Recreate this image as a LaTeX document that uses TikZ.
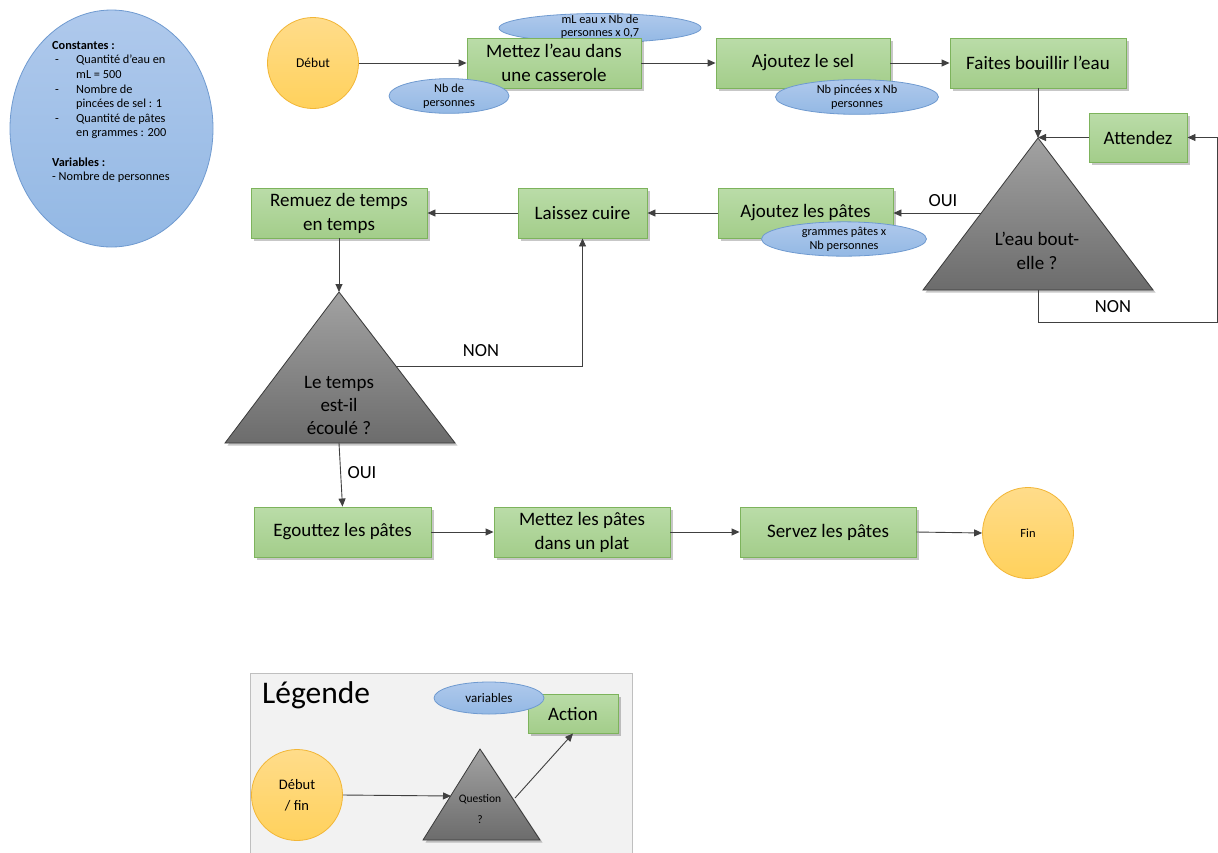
\documentclass[tikz,border=0pt]{standalone}
\usepackage{fontspec}
\setmainfont{Carlito}
\usetikzlibrary{arrows.meta,shadows,shapes.geometric,calc}
\definecolor{gtop}{HTML}{BADCA8}
\definecolor{gbot}{HTML}{A3CD8A}
\definecolor{gbord}{HTML}{7DB35C}
\definecolor{btop}{HTML}{AFC9EC}
\definecolor{bbot}{HTML}{93B8E4}
\definecolor{bbord}{HTML}{6F9AD0}
\definecolor{otop}{HTML}{FFDC8A}
\definecolor{obot}{HTML}{FFD15C}
\definecolor{obord}{HTML}{F2B636}
\definecolor{ttop}{HTML}{A2A2A2}
\definecolor{tbot}{HTML}{6C6C6C}
\definecolor{tbord}{HTML}{3A3A3A}
\definecolor{lc}{HTML}{404040}
\definecolor{legbg}{HTML}{F2F2F2}
\definecolor{legbd}{HTML}{BFBFBF}
\begin{document}
\begin{tikzpicture}[x=1pt,y=-1pt,
  font=\fontsize{19}{24}\selectfont,
  shad/.style={drop shadow={shadow xshift=2.5pt,shadow yshift=-2.5pt,opacity=0.22,fill=black}},
  act/.style={draw=gbord, line width=0.9pt, top color=gtop, bottom color=gbot, align=center, inner sep=2pt, shad},
  var/.style={ellipse, draw=bbord, line width=0.8pt, top color=btop, bottom color=bbot, align=center, inner sep=0pt, font=\fontsize{12.3}{14}\selectfont},
  term/.style={circle, draw=obord, line width=0.8pt, top color=otop, bottom color=obot, minimum size=91, inner sep=0pt, align=center, font=\fontsize{13.5}{20}\selectfont},
  tri/.style={draw=tbord, line width=0.8pt, top color=ttop, bottom color=tbot},
  arr/.style={draw=lc, line width=0.9pt, -{Triangle[length=8pt,width=7pt]}},
  lbl/.style={font=\fontsize{18.5}{20}\selectfont, inner sep=0pt}
]
\useasboundingbox (0,0) rectangle (1218,852);
\fill[white] (0,0) rectangle (1218,852);

% constants ellipse
\node[ellipse, draw=bbord, line width=0.8pt, top color=btop, bottom color=bbot, minimum width=203, minimum height=237, inner sep=0pt] (consts) at (111.5,128.5) {};
\node[anchor=north west, align=left, inner sep=0pt, font=\fontsize{12.3}{14.6}\selectfont] (consttxt) at (52,41)
 {\textbf{Constantes :}\\
  \makebox[24pt][l]{\hspace{3pt}-}Quantité d’eau en\\
  \hspace*{24pt}mL = 500\\
  \makebox[24pt][l]{\hspace{3pt}-}Nombre de\\
  \hspace*{24pt}pincées de sel : 1\\
  \makebox[24pt][l]{\hspace{3pt}-}Quantité de pâtes\\
  \hspace*{24pt}en grammes : 200\\[14.6pt]
  \textbf{Variables :}\\
  - Nombre de personnes};

% coordinates for triangles
\coordinate (t1a) at (1038,138);
\coordinate (t1l) at (923,290);
\coordinate (t1r) at (1153,290);
\coordinate (t1b) at (1038,290);
\coordinate (t1s) at (981,213);
\coordinate (t2a) at (339,292);
\coordinate (t2l) at (225,443);
\coordinate (t2r) at (455,443);
\coordinate (t2b) at (339,443);
\coordinate (t2s) at (396,366);
\coordinate (t3a) at (480,749);
\coordinate (t3l) at (423,840);
\coordinate (t3r) at (540,840);
\coordinate (t3s) at (451,796);
\coordinate (t3e) at (515,798);

% top row
\node[term] (debut) at (313,63) {Début};
\node[var, minimum width=202, minimum height=29] (e1) at (600,28) {};
\node[act, minimum width=174, minimum height=50] (m1) at (554,63) {Mettez l’eau dans\\une casserole};
\node[align=center, inner sep=0pt, font=\fontsize{12.3}{13.5}\selectfont] (e1txt) at (600,26.5) {mL eau x Nb de\\personnes x 0,7};
\node[var, minimum width=120, minimum height=34] (e2) at (449,96) {Nb de\\personnes};
\node[act, minimum width=174, minimum height=50] (sel) at (803,63) {Ajoutez le sel};
\node[var, minimum width=163, minimum height=32] (e3) at (857,97) {Nb pincées x Nb\\personnes};
\node[act, minimum width=176, minimum height=50] (bouil) at (1038,63) {Faites bouillir l’eau};
\node[act, minimum width=98, minimum height=49] (att) at (1138,137.5) {Attendez};

% triangle 1
\path[tri, shad] (t1a) -- (t1l) -- (t1r) -- cycle;
\node[align=center, inner sep=0pt] (t1txt) at (1037,251) {L’eau bout-\\elle ?};

% second row
\node[act, minimum width=175, minimum height=50] (pates) at (805.5,213) {Ajoutez les pâtes};
\node[var, minimum width=165, minimum height=32] (e4) at (844,239) {grammes pâtes x\\Nb personnes};
\node[act, minimum width=129, minimum height=50] (cuire) at (582.5,213) {Laissez cuire};
\node[act, minimum width=176, minimum height=50] (remuez) at (339,213) {Remuez de temps\\en temps};

% triangle 2
\path[tri, shad] (t2a) -- (t2l) -- (t2r) -- cycle;
\node[align=center, inner sep=0pt, font=\fontsize{19}{23}\selectfont] (t2txt) at (339,405) {Le temps\\est-il\\écoulé ?};

% bottom row
\node[act, minimum width=177, minimum height=50] (egout) at (342.5,532) {Egouttez les pâtes};
\node[act, minimum width=176, minimum height=50] (plat) at (582,532) {Mettez les pâtes\\dans un plat};
\node[act, minimum width=176, minimum height=50] (servez) at (828,532) {Servez les pâtes};
\node[term, font=\fontsize{12.5}{20}\selectfont] (fin) at (1028,533) {Fin};

% connectors
\draw[arr] (debut.east) -- (m1.west);
\draw[arr] (m1.east) -- (sel.west);
\draw[arr] (sel.east) -- (bouil.west);
\draw[arr] (bouil.south) -- (t1a);
\draw[arr] (att.west) -- (t1a |- att.west);
\draw[arr] (t1b) -- ++(0,32) -| (1217,137.5) -- (att.east);
\node[lbl] (non1) at (1113,307) {NON};
\draw[arr] (t1s) -- (pates.east);
\node[lbl] (oui1) at (943,201) {OUI};
\draw[arr] (pates.west) -- (cuire.east);
\draw[arr] (cuire.west) -- (remuez.east);
\draw[arr] (remuez.south) -- (t2a);
\draw[arr] (t2s) -| (cuire.south);
\node[lbl] (non2) at (481,351) {NON};
\draw[arr] (t2b) -- (egout.north);
\node[lbl] (oui2) at (362,473) {OUI};
\draw[arr] (egout.east) -- (plat.west);
\draw[arr] (plat.east) -- (servez.west);
\draw[arr] (servez.east) -- (fin.west);

% legend
\draw[legbd, fill=legbg, line width=0.9pt] (250,673) rectangle (632,860);
\node[anchor=west, inner sep=0pt, font=\fontsize{31.5}{34}\selectfont] (legtitle) at (262,695) {Légende};
\node[act, minimum width=90, minimum height=39] (action) at (573,713.5) {Action};
\node[var, minimum width=110, minimum height=32, font=\fontsize{13}{15}\selectfont] (e5) at (489,698) {variables};
\node[term, font=\fontsize{14.5}{21}\selectfont] (ldeb) at (297,795) {Début\\/ fin};
\path[tri, shad] (t3a) -- (t3l) -- (t3r) -- cycle;
\node[align=center, inner sep=0pt, font=\fontsize{11.5}{21}\selectfont] (t3txt) at (480,809) {Question\\?};
\draw[arr] (ldeb.east) -- (t3s);
\draw[arr] (t3e) -- (action.south);
\end{tikzpicture}
\end{document}
